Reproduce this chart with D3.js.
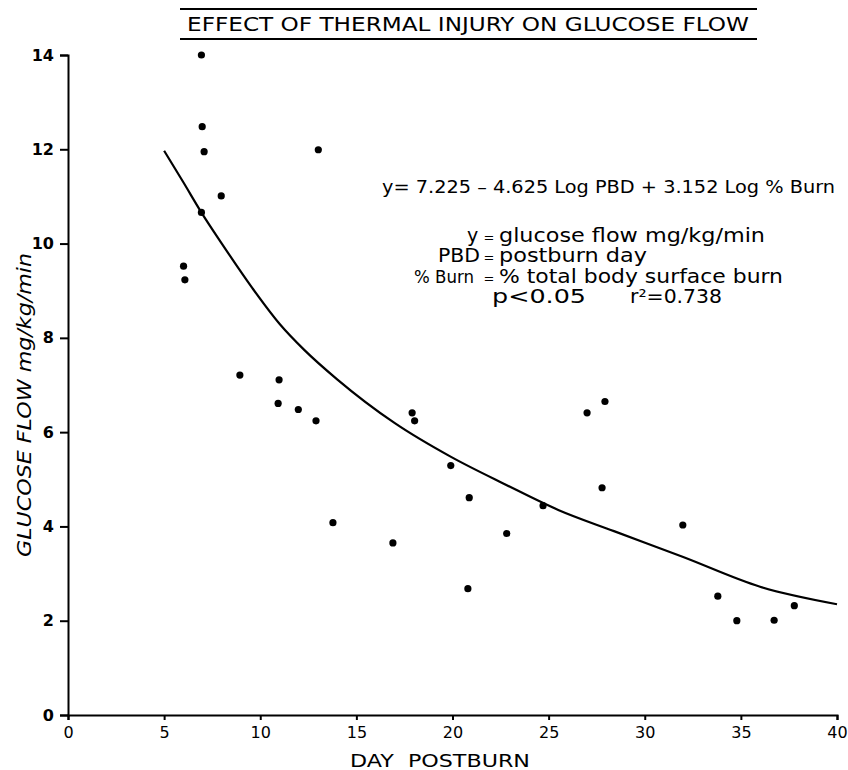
<!DOCTYPE html>
<html>
<head>
<meta charset="utf-8">
<script src="https://cdn.jsdelivr.net/npm/d3@7"></script>
<style>
  html, body { margin: 0; padding: 0; background: #fff; }
  svg { display: block; }
  text { font-family: "DejaVu Sans", sans-serif; fill: #000; }
</style>
</head>
<body>
<svg id="chart" width="848" height="770"></svg>
<script>
// ---- data ----
const dayPostburn = [6.94, 6.98, 7.08, 13.02, 7.97, 6.94, 6.01, 6.08,
  8.94, 10.98, 10.93, 11.98, 12.9, 13.78, 16.9, 17.9, 18.03, 19.91, 20.87, 20.8, 22.82, 24.71,
  27.0, 27.93, 27.78, 31.98, 33.8, 34.79, 36.73, 37.78];
const glucoseFlow = [14.0, 12.48, 11.95, 11.99, 11.01, 10.66, 9.52, 9.23,
  7.21, 7.11, 6.61, 6.48, 6.24, 4.08, 3.65, 6.41, 6.24, 5.29, 4.61, 2.68, 3.85, 4.44,
  6.41, 6.65, 4.82, 4.03, 2.52, 2.0, 2.01, 2.32];
const curveDay  = [5, 6, 7, 8, 9.6, 11, 12.3, 14, 17, 19.9, 22.8, 25.5, 28.4, 32, 36, 40];
const curveFlow = [11.97, 11.3, 10.62, 10.0, 9.05, 8.3, 7.74, 7.12, 6.19, 5.48, 4.88, 4.35, 3.9, 3.35, 2.72, 2.35];
const xTicks = [0, 5, 10, 15, 20, 25, 30, 35, 40];
const yTicks = [0, 2, 4, 6, 8, 10, 12, 14];
const titleText = "EFFECT OF THERMAL INJURY ON GLUCOSE FLOW";
const xLabel = "DAY  POSTBURN";
const yLabel = "GLUCOSE FLOW mg/kg/min";
const eqLine = "y= 7.225 – 4.625 Log PBD + 3.152 Log % Burn";
const legendLeft = ["y", "PBD", "% Burn"];
const legendRight = ["glucose flow mg/kg/min", "postburn day", "% total body surface burn"];
const statP = "p<0.05";
const statR = "r²=0.738";

// ---- layout ----
const svg = d3.select("#chart");
const x = d3.scaleLinear().domain([0, 40]).range([68, 837]);
const y = d3.scaleLinear().domain([0, 14]).range([715, 55]);

// title with rules
svg.append("line").attr("x1", 180).attr("x2", 757).attr("y1", 9).attr("y2", 9)
  .attr("stroke", "#000").attr("stroke-width", 2);
svg.append("line").attr("x1", 180).attr("x2", 757).attr("y1", 39).attr("y2", 39)
  .attr("stroke", "#000").attr("stroke-width", 2);
svg.append("text").attr("x", 187).attr("y", 31).attr("text-anchor", "start")
  .attr("font-size", 20).attr("textLength", 562).attr("lengthAdjust", "spacingAndGlyphs")
  .text(titleText);

// axes
const yAxis = d3.axisLeft(y).tickValues(yTicks).tickSize(8).tickPadding(6).tickFormat(d3.format("d"));
const gy = svg.append("g").attr("transform", `translate(${x(0)},0)`).call(yAxis);
gy.select(".domain").attr("stroke-width", 2);
gy.selectAll(".tick line").attr("stroke-width", 2);
gy.selectAll(".tick text").attr("font-size", 16).attr("font-weight", "bold");

const xAxis = d3.axisBottom(x).tickValues(xTicks).tickSize(5).tickPadding(7).tickFormat(d3.format("d"));
const gx = svg.append("g").attr("transform", `translate(0,${y(0)})`).call(xAxis);
gx.select(".domain").attr("stroke-width", 2);
gx.selectAll(".tick line").attr("stroke-width", 2);
gx.selectAll(".tick text").attr("font-size", 16);

// axis labels
svg.append("text").attr("x", 350).attr("y", 767).attr("text-anchor", "start")
  .attr("font-size", 18).attr("textLength", 180).attr("lengthAdjust", "spacingAndGlyphs")
  .style("white-space", "pre").text(xLabel);
svg.append("text").attr("transform", "translate(31,557) rotate(-90)").attr("text-anchor", "start")
  .attr("font-size", 19).attr("font-style", "italic")
  .attr("textLength", 304).attr("lengthAdjust", "spacingAndGlyphs").text(yLabel);

// fitted curve
const curvePts = curveDay.map((d, i) => [d, curveFlow[i]]);
svg.append("path").datum(curvePts)
  .attr("fill", "none").attr("stroke", "#000").attr("stroke-width", 2.2)
  .attr("d", d3.line().x(d => x(d[0])).y(d => y(d[1])).curve(d3.curveMonotoneX));

// points
svg.append("g").selectAll("circle").data(dayPostburn.map((d, i) => [d, glucoseFlow[i]]))
  .join("circle").attr("cx", d => x(d[0])).attr("cy", d => y(d[1])).attr("r", 3.6).attr("fill", "#000");

// equation text
function txt(t, x0, y0, len, size) {
  const el = svg.append("text").attr("x", x0).attr("y", y0).attr("font-size", size || 19).text(t);
  if (len) el.attr("textLength", len).attr("lengthAdjust", "spacingAndGlyphs");
  return el;
}
txt(eqLine, 382, 193, 453, 18);
const legY = [242, 262, 283];
const leftX = [[467, 0], [438, 42], [414, 60]];
const leftSize = [19, 19, 18];
const rightX = [[499, 266], [499, 148], [499, 284]];
legendLeft.forEach((t, i) => {
  txt(t, leftX[i][0], legY[i], leftX[i][1], leftSize[i]);
  txt("=", 489, legY[i], 0, 13).attr("text-anchor", "middle");
  txt(legendRight[i], rightX[i][0], legY[i], rightX[i][1]);
});
txt(statP, 492, 303, 94);
txt(statR, 630, 303, 92);
</script>
</body>
</html>
